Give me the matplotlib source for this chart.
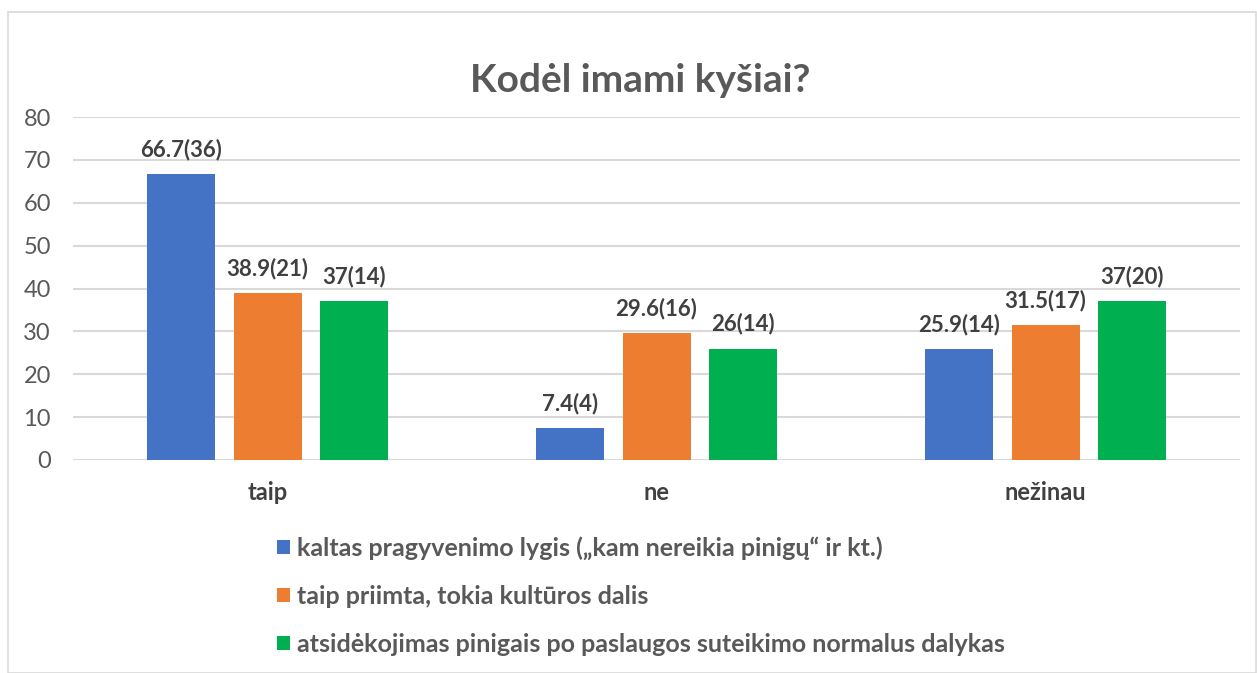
import matplotlib
matplotlib.use("Agg")
import matplotlib.pyplot as plt
from matplotlib.patches import Rectangle
import numpy as np

categories = ["taip", "ne", "nežinau"]
series_names = [
    "kaltas pragyvenimo lygis („kam nereikia pinigų“ ir kt.)",
    "taip priimta, tokia kultūros dalis",
    "atsidėkojimas pinigais po paslaugos suteikimo normalus dalykas",
]
values = [
    [66.7, 7.4, 25.9],
    [38.9, 29.6, 31.5],
    [37.0, 26.0, 37.0],
]
counts = [
    [36, 4, 14],
    [21, 16, 17],
    [14, 14, 20],
]
colors = ["#4472C4", "#ED7D31", "#00B050"]
yticks = [0, 10, 20, 30, 40, 50, 60, 70, 80]

plt.rcParams['font.family'] = ['Lato', 'DejaVu Sans']

fig = plt.figure(figsize=(12.57, 6.73), dpi=100)
fig.patches.append(Rectangle((8/1257, 0), 1 - 8/1257 - 0.0005, 1 - 12/673,
                             transform=fig.transFigure, fill=False,
                             edgecolor="#d9d9d9", linewidth=1.2))
ax = fig.add_axes([73/1257, 1 - 460/673, (1240 - 73)/1257, (460 - 117)/673])

x = np.arange(len(categories))
w = 68/389
step = 86.5/389
for i in range(3):
    pos = x + (i - 1) * step
    ax.bar(pos, values[i], width=w, color=colors[i], label=series_names[i], zorder=3)
    for xi, v, c in zip(pos, values[i], counts[i]):
        lab = f"{v:g}({c})"
        ax.text(xi, v + 5.8, lab, ha="center", va="center", fontsize=16,
                fontweight="bold", color="#404040")

ax.set_xlim(-0.5, 2.5)
ax.set_ylim(0, 80)
ax.set_yticks(yticks)
ax.grid(axis="y", color="#d9d9d9", linewidth=1.5, zorder=0)
for s in ax.spines.values():
    s.set_visible(False)
ax.tick_params(axis="both", length=0, labelsize=17, colors="#595959")
ax.set_xticks(x)
ax.set_xticklabels(categories, fontweight="bold", color="#404040")
ax.tick_params(axis="x", pad=15)
ax.tick_params(axis="y", pad=16)

fig.text(0.509, 1 - 80/673, "Kodėl imami kyšiai?", ha="center", va="center",
         fontsize=28, fontweight="bold", color="#595959")

leg = fig.legend(loc="upper left", bbox_to_anchor=(277/1257, 1 - 536/673),
                 frameon=False, prop={"size": 18, "weight": "bold"},
                 handlelength=0.5, handleheight=0.5, handletextpad=0.3,
                 labelspacing=1.0, borderaxespad=0, borderpad=0)
for t in leg.get_texts():
    t.set_color("#595959")

fig.savefig("out.png", dpi=100)
